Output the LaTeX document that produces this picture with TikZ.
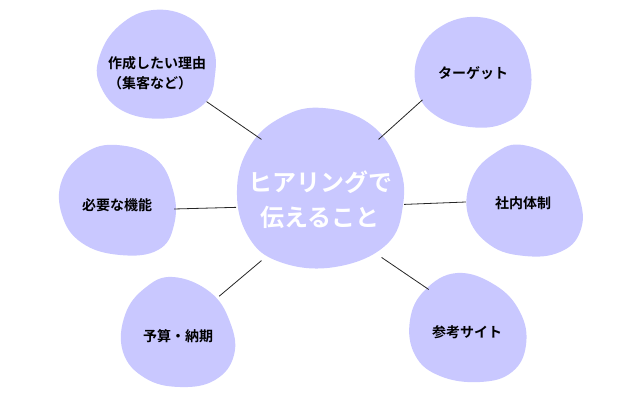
\documentclass[tikz,border=0pt]{standalone}
\usepackage{fontspec}
\newfontfamily\jp[BoldFont={Noto Sans CJK JP Bold}]{Noto Sans CJK JP}
\usepackage{tikz}
\definecolor{lavender}{RGB}{201,200,255}
\tikzset{
	blob/.style={fill=lavender, draw=none},
	topic/.style={circle, minimum size=114pt, inner sep=0pt, font=\jp\bfseries\fontsize{14}{20}\selectfont, align=center},
	hubnode/.style={circle, minimum size=168pt, inner sep=0pt, text=white, font=\jp\bfseries\fontsize{24}{35}\selectfont, align=center},
	link/.style={line width=0.8pt, color=black!85}
}

\begin{document}
\begin{tikzpicture}[x=1pt, y=-1pt]
		%%%%% START %%%%%
		\useasboundingbox (0, 0) rectangle (640, 400);
		
		\fill[blob] plot[smooth cycle, tension=0.7] coordinates {(323,108) (370,124) (398,163) (403,205) (386,245) (335,267) (280,262) (248,236) (237,190) (250,146) (282,117)};
		
		\fill[blob] plot[smooth cycle, tension=0.7] coordinates {(153,10) (190,18) (212,45) (215,75) (205,103) (170,118) (125,112) (100,85) (100,55) (120,25)};
		\fill[blob] plot[smooth cycle, tension=0.7] coordinates {(478,17) (513,32) (530,65) (527,102) (505,123) (470,127) (435,115) (417,90) (418,55) (440,27)};
		\fill[blob] plot[smooth cycle, tension=0.7] coordinates {(117,145) (155,158) (173,190) (174,225) (158,250) (120,255) (82,243) (62,215) (62,180) (85,153)};
		\fill[blob] plot[smooth cycle, tension=0.7] coordinates {(523,145) (560,163) (580,200) (580,232) (560,252) (525,256) (490,245) (468,215) (472,178) (495,153)};
		\fill[blob] plot[smooth cycle, tension=0.7] coordinates {(173,277) (210,292) (230,322) (234,355) (215,380) (180,387) (145,378) (123,352) (125,315) (145,288)};
		\fill[blob] plot[smooth cycle, tension=0.7] coordinates {(457,273) (495,285) (520,312) (526,345) (512,372) (480,382) (440,376) (415,355) (410,320) (425,290)};
		
		\node[hubnode] (hub) at (320, 200) {ヒアリングで\\伝えること};
		
		\node[topic, align=left] (reason) at (157, 73) {作成したい理由\\（集客など）};
		\node[topic] (target) at (473, 73) {ターゲット};
		\node[topic] (feature) at (117, 205) {必要な機能};
		\node[topic] (system) at (523, 203) {社内体制};
		\node[topic] (budget) at (178, 336) {予算・納期};
		\node[topic] (sites) at (467, 332) {参考サイト};
		
		\draw[link] (hub.134) -- (reason.-30);
		\draw[link] (hub.46) -- (target.208);
		\draw[link] (hub.185) -- (feature.-4);
		\draw[link] (hub.-3) -- (system.179);
		\draw[link] (hub.226) -- (budget.44);
		\draw[link] (hub.-43) -- (sites.132);
		
		%%%%% END %%%%%
\end{tikzpicture}
\end{document}
